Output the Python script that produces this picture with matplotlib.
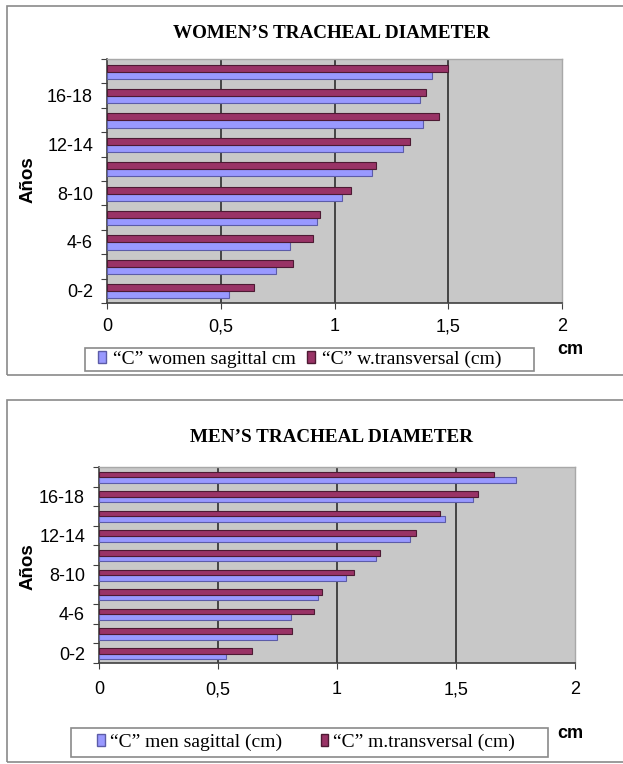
import numpy as np
import matplotlib
matplotlib.use("Agg")
import matplotlib.pyplot as plt
from matplotlib.patches import Rectangle, Patch

# age groups (years) and tracheal diameters (cm)
age_groups = ["0-2", "2-4", "4-6", "6-8", "8-10", "10-12", "12-14", "14-16", "16-18", "18-20"]
women_sagittal = [0.535, 0.742, 0.804, 0.925, 1.033, 1.163, 1.302, 1.391, 1.374, 1.428]
women_transversal = [0.644, 0.816, 0.905, 0.935, 1.074, 1.182, 1.332, 1.461, 1.404, 1.500]
men_sagittal = [0.534, 0.748, 0.805, 0.922, 1.037, 1.164, 1.306, 1.454, 1.573, 1.751]
men_transversal = [0.643, 0.813, 0.903, 0.935, 1.073, 1.182, 1.334, 1.434, 1.594, 1.661]
x_ticks = [0, 0.5, 1, 1.5, 2]
x_labels = ["0", "0,5", "1", "1,5", "2"]

SAG = "#9999ff"
SAG_EDGE = "#5c5ca8"
TRA = "#993366"
TRA_EDGE = "#4d1a33"
BG = "#c8c8c8"

W, H = 623, 764
fig = plt.figure(figsize=(W / 100, H / 100), dpi=100)
fig.patch.set_facecolor("white")


def px_axes(x0, y0, x1, y1):
    # axes from pixel box (top-left origin)
    return fig.add_axes([x0 / W, 1 - y1 / H, (x1 - x0) / W, (y1 - y0) / H])


def frame(x0, y0, x1, y1, color="#8a8a8a"):
    fig.patches.append(Rectangle((x0 / W, 1 - y1 / H), (x1 - x0) / W, (y1 - y0) / H,
                                 transform=fig.transFigure, fill=False,
                                 edgecolor=color, linewidth=1.2))


def draw_panel(ax, sag, tra, title, title_xy, label_y, cm_xy, legend_box, legend_x,
               labels, colspacing, textpad, xpad):
    y = np.arange(len(age_groups))
    h = 0.29
    ax.set_facecolor(BG)
    ax.barh(y - 0.02 - h / 2, sag, height=h, color=SAG, edgecolor=SAG_EDGE, linewidth=0.8, zorder=3)
    ax.barh(y - 0.02 + h / 2, tra, height=h, color=TRA, edgecolor=TRA_EDGE, linewidth=0.8, zorder=3)
    ax.set_xlim(0, 2)
    ax.set_ylim(-0.5, len(age_groups) - 0.5)
    for g in [0.5, 1, 1.5]:
        ax.axvline(g, color="#3a3a3a", linewidth=1.3, zorder=2)

    ax.set_xticks(x_ticks)
    ax.set_xticklabels(x_labels, fontsize=13, family="Liberation Sans")
    ax.tick_params(axis="x", direction="out", length=4, pad=xpad, color="#404040")

    ax.set_yticks(np.arange(-0.5, len(age_groups), 1.0))
    ax.set_yticklabels([])
    ax.set_yticks(y[::2], minor=True)
    ax.set_yticklabels(age_groups[::2], minor=True, fontsize=13, family="Liberation Sans")
    ax.tick_params(axis="y", which="major", direction="out", length=4, color="#404040")
    ax.tick_params(axis="y", which="minor", length=0, pad=10)

    for side in ["left", "bottom"]:
        ax.spines[side].set_color("#404040")
        ax.spines[side].set_linewidth(1.2)
    for side in ["top", "right"]:
        ax.spines[side].set_color("#a8a8a8")
        ax.spines[side].set_linewidth(1.0)

    fig.text(title_xy[0] / W, 1 - title_xy[1] / H, title, ha="center", va="center",
             fontsize=13.8, fontweight="bold", family="Liberation Serif")
    fig.text(28 / W, 1 - label_y / H, "Años", rotation=90, ha="center", va="center",
             fontsize=13.5, fontweight="bold", family="Liberation Sans")
    fig.text(cm_xy[0] / W, 1 - cm_xy[1] / H, "cm", ha="center", va="center",
             fontsize=13, fontweight="bold", family="Liberation Sans")

    handles = [Patch(facecolor=SAG, edgecolor=SAG_EDGE), Patch(facecolor=TRA, edgecolor=TRA_EDGE)]
    x0, y0, x1, y1 = legend_box
    frame(x0, y0, x1, y1)
    fig.legend(handles, labels, loc="center left",
               bbox_to_anchor=(legend_x / W, 1 - (y0 + y1) / 2 / H),
               borderaxespad=0, borderpad=0,
               ncol=2, frameon=False, handlelength=0.4, handleheight=0.55, handletextpad=textpad,
               columnspacing=colspacing, prop={"family": "Liberation Serif", "size": 14})


# outer boxes
frame(7, 6, 640, 375)
frame(7, 400, 640, 762)

ax_w = px_axes(107, 59, 562, 303)
draw_panel(ax_w, women_sagittal, women_transversal, "WOMEN\u2019S TRACHEAL DIAMETER",
           (331, 33), 180, (570, 350), (85, 348, 534, 371), 98,
           ["\u201cC\u201d women sagittal cm", "\u201cC\u201d w.transversal (cm)"], 0.6, 0.35, 7)

ax_m = px_axes(99, 467, 575, 663)
draw_panel(ax_m, men_sagittal, men_transversal, "MEN\u2019S TRACHEAL DIAMETER",
           (331, 437), 567, (570, 733), (71, 728, 548, 757), 97,
           ["\u201cC\u201d men sagittal (cm)", "\u201cC\u201d m.transversal (cm)"], 2.0, 0.25, 9)

fig.savefig("out.png", dpi=100)
